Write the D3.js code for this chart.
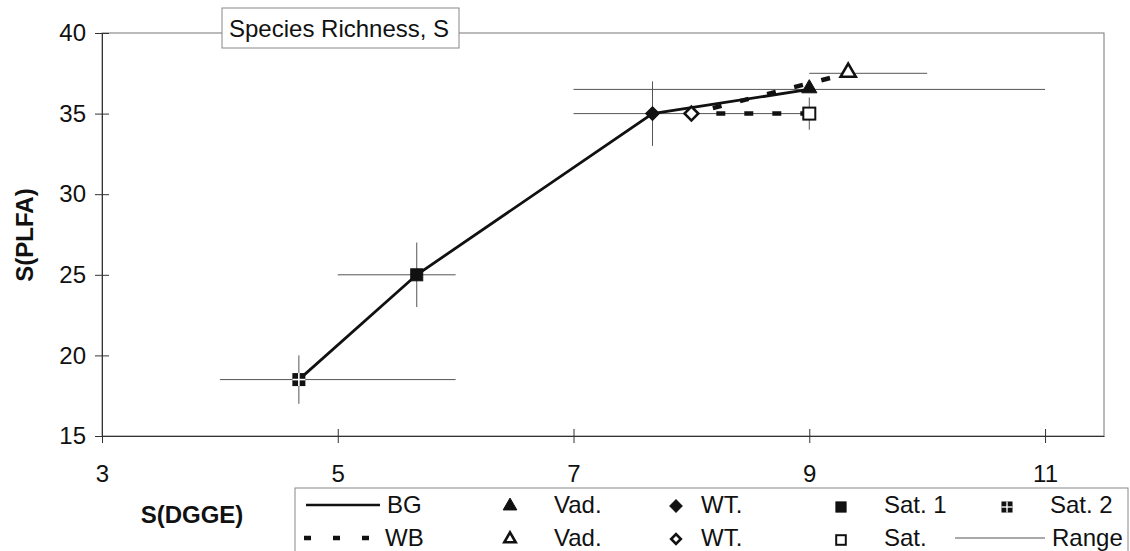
<!DOCTYPE html>
<html>
<head>
<meta charset="utf-8">
<style>
body { margin: 0; background: #fff; }
text { font-family: "Liberation Sans", Arial, sans-serif; fill: #111; }
</style>
</head>
<body>
<svg width="1130" height="551"></svg>
<script src="https://d3js.org/d3.v7.min.js"></script>
<script>
// BG series (solid line), in drawing order
var bgNames = ["Sat. 2", "Sat. 1", "WT.", "Vad."];
var bgX = [4.67, 5.67, 7.67, 9.0];
var bgY = [18.5, 25, 35, 36.5];
var bgXRange = [[4, 6], [5, 6], [7.67, 7.67], [7, 11]];
var bgYRange = [[17, 20], [23, 27], [33, 37], [36.5, 36.5]];

// WB series (dashed line)
var wbNames = ["Sat.", "WT.", "Vad."];
var wbX = [9.0, 8.0, 9.33];
var wbY = [35, 35, 37.5];
var wbXRange = [[9, 9], [7, 9], [9, 10]];
var wbYRange = [[34, 36], [35, 35], [37.5, 37.5]];

var xTicks = [3, 5, 7, 9, 11];
var yTicks = [15, 20, 25, 30, 35, 40];

var svg = d3.select("svg");

var x = d3.scaleLinear().domain([3, 11.5]).range([102, 1104]);
var y = d3.scaleLinear().domain([15, 40]).range([436, 33]);

var bg = bgNames.map(function(n, i) {
  return { name: n, x: bgX[i], y: bgY[i], xr: bgXRange[i], yr: bgYRange[i] };
});
var wb = wbNames.map(function(n, i) {
  return { name: n, x: wbX[i], y: wbY[i], xr: wbXRange[i], yr: wbYRange[i] };
});

// plot area frame
svg.append("rect")
    .attr("x", x(3)).attr("y", y(40))
    .attr("width", x(11.5) - x(3)).attr("height", y(15) - y(40))
    .attr("fill", "none").attr("stroke", "#777").attr("stroke-width", 1);

// axes
var xAxis = svg.append("g")
    .attr("transform", "translate(0," + y(15) + ")")
    .call(d3.axisBottom(x).tickValues(xTicks).tickSizeInner(7).tickSizeOuter(0).tickPadding(22));
var yAxis = svg.append("g")
    .attr("transform", "translate(" + x(3) + ",0)")
    .call(d3.axisLeft(y).tickValues(yTicks).tickSizeInner(7).tickSizeOuter(0).tickPadding(9));

[xAxis, yAxis].forEach(function(a) {
  a.select(".domain").attr("stroke", "#333");
  a.selectAll(".tick line").attr("stroke", "#333");
  a.selectAll("text").attr("font-size", 24).attr("font-family", "Liberation Sans, Arial, sans-serif").attr("fill", "#111");
});
// ticks cross the axis
xAxis.selectAll(".tick line").attr("y1", -7).attr("y2", 7);
yAxis.selectAll(".tick line").attr("x1", -7).attr("x2", 7);

// range bars
var all = bg.concat(wb);
var rg = svg.append("g").attr("stroke", "#555").attr("stroke-width", 1);
all.forEach(function(d) {
  if (d.xr[0] !== d.xr[1]) {
    rg.append("line").attr("x1", x(d.xr[0])).attr("x2", x(d.xr[1]))
      .attr("y1", y(d.y)).attr("y2", y(d.y));
  }
  if (d.yr[0] !== d.yr[1]) {
    rg.append("line").attr("x1", x(d.x)).attr("x2", x(d.x))
      .attr("y1", y(d.yr[0])).attr("y2", y(d.yr[1]));
  }
});

var line = d3.line().x(function(d) { return x(d.x); }).y(function(d) { return y(d.y); });

svg.append("path").datum(wb)
    .attr("d", line).attr("fill", "none").attr("stroke", "#111")
    .attr("stroke-width", 4.5).attr("stroke-dasharray", "9,19");
svg.append("path").datum(bg)
    .attr("d", line).attr("fill", "none").attr("stroke", "#111")
    .attr("stroke-width", 2.8);

// markers
function marker(g, kind, cx, cy, s) {
  var k = s || 1;
  if (kind === "triFill" || kind === "triOpen") {
    g.append("path")
      .attr("d", d3.symbol(d3.symbolTriangle, 100 * k * k)())
      .attr("transform", "translate(" + cx + "," + (cy - 1) + ")")
      .attr("fill", kind === "triFill" ? "#111" : "#fff")
      .attr("stroke", "#111").attr("stroke-width", kind === "triFill" ? 1 : 2.6);
  } else if (kind === "diaFill" || kind === "diaOpen") {
    g.append("path")
      .attr("d", d3.symbol(d3.symbolSquare, 95 * k * k)())
      .attr("transform", "translate(" + cx + "," + cy + ") rotate(45)")
      .attr("fill", kind === "diaFill" ? "#111" : "#fff")
      .attr("stroke", "#111").attr("stroke-width", kind === "diaFill" ? 1 : 2.6);
  } else if (kind === "sqFill" || kind === "sqOpen") {
    var w = 12 * k;
    g.append("rect")
      .attr("x", cx - w / 2).attr("y", cy - w / 2).attr("width", w).attr("height", w)
      .attr("fill", kind === "sqFill" ? "#111" : "#fff")
      .attr("stroke", "#111").attr("stroke-width", kind === "sqFill" ? 1 : 2);
  } else if (kind === "sqCross") {
    var w2 = 13 * k;
    g.append("rect")
      .attr("x", cx - w2 / 2).attr("y", cy - w2 / 2).attr("width", w2).attr("height", w2)
      .attr("fill", "#111");
    g.append("line").attr("x1", cx - w2 / 2).attr("x2", cx + w2 / 2).attr("y1", cy).attr("y2", cy)
      .attr("stroke", "#fff").attr("stroke-width", 1.6 * k);
    g.append("line").attr("x1", cx).attr("x2", cx).attr("y1", cy - w2 / 2).attr("y2", cy + w2 / 2)
      .attr("stroke", "#fff").attr("stroke-width", 1.6 * k);
  }
}

var bgKinds = { "Sat. 2": "sqCross", "Sat. 1": "sqFill", "WT.": "diaFill", "Vad.": "triFill" };
var wbKinds = { "Sat.": "sqOpen", "WT.": "diaOpen", "Vad.": "triOpen" };

var mg = svg.append("g");
wb.forEach(function(d) { marker(mg, wbKinds[d.name], x(d.x), y(d.y)); });
bg.forEach(function(d) { marker(mg, bgKinds[d.name], x(d.x), y(d.y)); });

// title box
var tg = svg.append("g");
tg.append("rect").attr("x", 222).attr("y", 8).attr("width", 237).attr("height", 40)
    .attr("fill", "#fff").attr("stroke", "#888").attr("stroke-width", 1);
tg.append("text").attr("x", 229).attr("y", 37).attr("font-size", 24)
    .text("Species Richness, S");

// axis titles
svg.append("text").attr("x", 192).attr("y", 523).attr("text-anchor", "middle")
    .attr("font-size", 24).attr("font-weight", "bold").text("S(DGGE)");
svg.append("text").attr("transform", "translate(33,235) rotate(-90)")
    .attr("text-anchor", "middle").attr("font-size", 24).attr("font-weight", "bold")
    .text("S(PLFA)");

// legend
var lg = svg.append("g");
lg.append("rect").attr("x", 295).attr("y", 488).attr("width", 833).attr("height", 80)
    .attr("fill", "#fff").attr("stroke", "#888").attr("stroke-width", 1);
var r1 = 505, r2 = 538;
lg.append("line").attr("x1", 306).attr("x2", 380).attr("y1", r1).attr("y2", r1)
    .attr("stroke", "#111").attr("stroke-width", 2.5);
lg.append("line").attr("x1", 304).attr("x2", 376).attr("y1", r2).attr("y2", r2)
    .attr("stroke", "#111").attr("stroke-width", 4.5).attr("stroke-dasharray", "7,22");
lg.append("line").attr("x1", 955).attr("x2", 1045).attr("y1", r2).attr("y2", r2)
    .attr("stroke", "#555").attr("stroke-width", 1);
marker(lg, "triFill", 510, r1 + 2, 0.9);
marker(lg, "triOpen", 510, r2 + 2, 0.75);
marker(lg, "diaFill", 676, r1 + 1, 0.9);
marker(lg, "diaOpen", 676, r2 + 1, 0.7);
marker(lg, "sqFill", 841, r1 + 2, 0.85);
marker(lg, "sqOpen", 841, r2 + 2, 0.8);
marker(lg, "sqCross", 1007, r1 + 2, 0.85);

var legendText = [
  [387, r1, "BG"], [554, r1, "Vad."], [701, r1, "WT."], [884, r1, "Sat. 1"], [1050, r1, "Sat. 2"],
  [385, r2, "WB"], [554, r2, "Vad."], [701, r2, "WT."], [884, r2, "Sat."], [1052, r2, "Range"]
];
legendText.forEach(function(t) {
  lg.append("text").attr("x", t[0]).attr("y", t[1] + 8).attr("font-size", 24).text(t[2]);
});
</script>
</body>
</html>
